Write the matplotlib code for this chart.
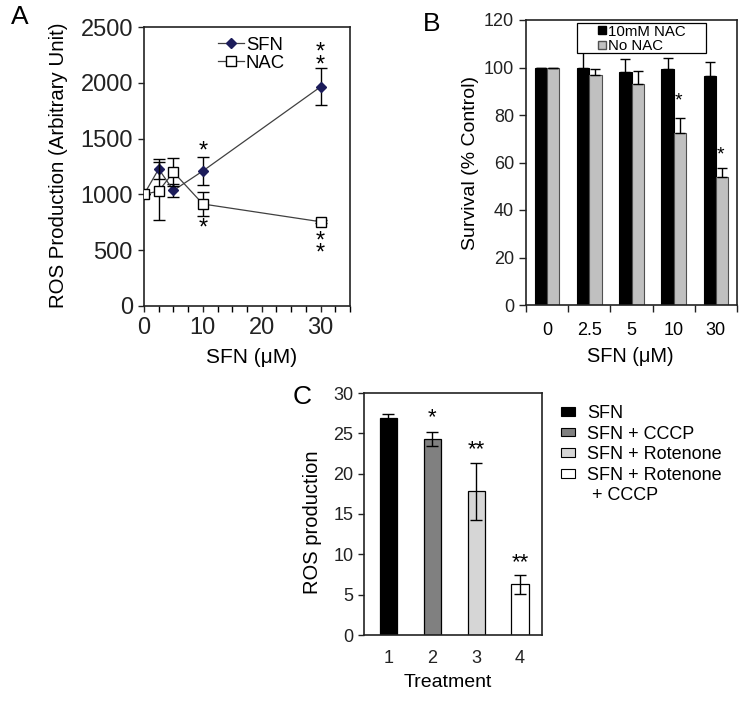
import numpy as np
import matplotlib
matplotlib.use('Agg')
import matplotlib.pyplot as plt
from matplotlib.lines import Line2D
from matplotlib.patches import Patch, Rectangle

plt.rcParams['font.family'] = ['Liberation Sans', 'DejaVu Sans']

# panel A: ROS production vs SFN dose
a_dose = [0, 2.5, 5, 10, 30]
a_sfn = [1000, 1228, 1035, 1210, 1964]
a_sfn_err = [0, 90, 60, 125, 165]
a_nac = [1000, 1030, 1200, 914, 755]
a_nac_err = [0, 260, 125, 110, 15]
a_stars = [(10, 1380, '*'), (10, 690, '*'), (30, 2213, '*\n*'), (30, 524, '*\n*')]

# panel B: survival
b_labels = ['0', '2.5', '5', '10', '30']
b_nac = [100, 100, 98.3, 99.3, 96.4]
b_nac_err = [0, 9, 5.3, 4.7, 6]
b_none = [100, 96.7, 93, 72.6, 54]
b_none_err = [0, 2.5, 5.5, 6, 3.8]
b_stars = {3: 86, 4: 63}

# panel C: ROS production by treatment
c_treat = [1, 2, 3, 4]
c_vals = [26.9, 24.3, 17.8, 6.3]
c_err = [0.5, 0.9, 3.5, 1.2]
c_names = ['SFN', 'SFN + CCCP', 'SFN + Rotenone', 'SFN + Rotenone']
c_colors = ['black', '#808080', '#d6d6d6', 'white']
c_stars = {2: (27.0, '*'), 3: (23.0, '**'), 4: (9.0, '**')}

W, H = 751, 704
fig = plt.figure(figsize=(W / 100, H / 100), dpi=100)


def box(x0, y0, x1, y1):
    return [x0 / W, 1 - y1 / H, (x1 - x0) / W, (y1 - y0) / H]


def style(ax):
    for s in ax.spines.values():
        s.set_linewidth(1.2)
        s.set_color('#222222')
    ax.tick_params(direction='out', length=4, width=1, colors='#222222')


# ---------- A ----------
ax = fig.add_axes(box(144, 27, 350, 306))
style(ax)
ax.errorbar(a_dose, a_sfn, yerr=a_sfn_err, color='#404040', lw=0.9, ecolor='black',
            elinewidth=1, capsize=4, marker='D', ms=5, mfc='#1c1c5a', mec='#1c1c5a',
            zorder=3)
ax.errorbar(a_dose, a_nac, yerr=a_nac_err, color='#404040', lw=0.9, ecolor='black',
            elinewidth=1, capsize=4, marker='s', ms=7.5, mfc='white', mec='black',
            mew=1, zorder=4)
for x, y, s in a_stars:
    ax.text(x, y, s, ha='center', va='center', fontsize=17, linespacing=0.46)
ax.set_xlim(0, 35)
ax.set_ylim(0, 2500)
ax.set_xticks([0, 10, 20, 30])
ax.set_xticks(np.arange(0, 35.1, 2.5), minor=True)
ax.set_yticks(range(0, 2501, 500))
ax.tick_params(which='minor', direction='out', length=4, width=1)
ax.tick_params(labelsize=17, pad=4)
ax.set_xlabel('SFN (μM)', fontsize=15)
ax.xaxis.set_label_coords(0.52, -0.183)
ax.xaxis.label.set_va('center')
ax.set_ylabel('ROS Production (Arbitrary Unit)', fontsize=14.7)
ax.yaxis.set_label_coords(-0.417, 0.505)
ax.yaxis.label.set_va('center')
leg_handles = [Line2D([], [], color='#404040', lw=0.9, marker='D', ms=5,
                      mfc='#1c1c5a', mec='#1c1c5a'),
               Line2D([], [], color='#404040', lw=0.9, marker='s', ms=7.5,
                      mfc='white', mec='black')]
ax.legend(leg_handles, ['SFN', 'NAC'], loc='upper left', bbox_to_anchor=(0.36, 0.965),
          frameon=False, fontsize=13.3, handlelength=1.4, handletextpad=0.1,
          labelspacing=0.05, borderpad=0, borderaxespad=0)
fig.text(20 / W, 1 - 17 / H, 'A', fontsize=19, ha='center', va='center')

# ---------- B ----------
bx = fig.add_axes(box(526, 20, 737, 305))
style(bx)
xb = np.arange(len(b_labels))
w = 0.29
bx.bar(xb - w / 2, b_nac, w, color='black', edgecolor='black', lw=0.8)
bx.bar(xb + w / 2, b_none, w, color='#c0c0c0', edgecolor='#505050', lw=0.8)
bx.errorbar(xb - w / 2, b_nac, yerr=[np.zeros(5), b_nac_err], fmt='none',
            ecolor='black', elinewidth=1, capsize=3.5)
bx.errorbar(xb + w / 2, b_none, yerr=[np.zeros(5), b_none_err], fmt='none',
            ecolor='black', elinewidth=1, capsize=3.5)
for i, y in b_stars.items():
    bx.text(i + w / 2 - 0.03, y, '*', ha='center', va='center', fontsize=14)
bx.set_xlim(-0.5, 4.5)
bx.set_ylim(0, 120)
bx.set_yticks(range(0, 121, 20))
bx.set_xticks(np.arange(-0.5, 4.6, 1))
bx.set_xticklabels([])
bx.set_xticks(xb, minor=True)
bx.set_xticklabels(b_labels, minor=True)
bx.tick_params(which='minor', length=0, labelsize=13, pad=12)
bx.tick_params(which='major', labelsize=13, length=5)
bx.set_xlabel('SFN (μM)', fontsize=14.4)
bx.xaxis.set_label_coords(0.493, -0.182)
bx.xaxis.label.set_va('center')
bx.set_ylabel('Survival (% Control)', fontsize=14)
bx.yaxis.set_label_coords(-0.265, 0.498)
bx.yaxis.label.set_va('center')
# legend frame drawn as a plain box, legend entries placed inside it
bx.add_patch(Rectangle((0.242, 0.884), 0.611, 0.105, transform=bx.transAxes,
                       facecolor='white', edgecolor='black', lw=0.9, zorder=5,
                       clip_on=False))
b_handles = [Line2D([], [], ls='none', marker='s', ms=6, mfc='black', mec='black'),
             Line2D([], [], ls='none', marker='s', ms=6, mfc='#c0c0c0', mec='#505050')]
lg = bx.legend(b_handles, ['10mM NAC', 'No NAC'], loc='upper left',
               bbox_to_anchor=((598 - 526) / 211, 0.984), fontsize=10.8,
               handlelength=0.5, handletextpad=0.15, labelspacing=0.05,
               borderpad=0, borderaxespad=0, frameon=False)
lg.set_zorder(6)
fig.text(432 / W, 1 - 24 / H, 'B', fontsize=19, ha='center', va='center')

# ---------- C ----------
cx = fig.add_axes(box(364, 393, 542, 635))
style(cx)
cx.bar(c_treat, c_vals, 0.39, color=c_colors, edgecolor='black', lw=0.9)
cx.errorbar(c_treat, c_vals, yerr=c_err, fmt='none', ecolor='black', elinewidth=1,
            capsize=4)
for i, (y, s) in c_stars.items():
    cx.text(i, y, s, ha='center', va='center', fontsize=16)
cx.set_xlim(0.45, 4.5)
cx.set_ylim(0, 30)
cx.set_yticks(range(0, 31, 5))
cx.set_xticks(c_treat)
cx.tick_params(axis='x', length=0, pad=11)
cx.tick_params(labelsize=13)
cx.set_xlabel('Treatment', fontsize=14)
cx.xaxis.set_label_coords(0.469, -0.198)
cx.xaxis.label.set_va('center')
cx.set_ylabel('ROS production', fontsize=14.5)
cx.yaxis.set_label_coords(-0.287, 0.467)
cx.yaxis.label.set_va('center')
c_handles = [Patch(facecolor=c, edgecolor='black', lw=0.8) for c in c_colors]
c_handles.append(Patch(facecolor='none', edgecolor='none'))
fig.legend(c_handles, c_names + [' + CCCP'], loc='upper left',
           bbox_to_anchor=(561 / W, 1 - 405 / H), frameon=False, fontsize=13,
           handlelength=0.77, handleheight=0.35, handletextpad=0.66,
           labelspacing=0.2, borderpad=0, borderaxespad=0)
fig.text(302 / W, 1 - 397 / H, 'C', fontsize=19, ha='center', va='center')

fig.savefig('out.png', dpi=100)
